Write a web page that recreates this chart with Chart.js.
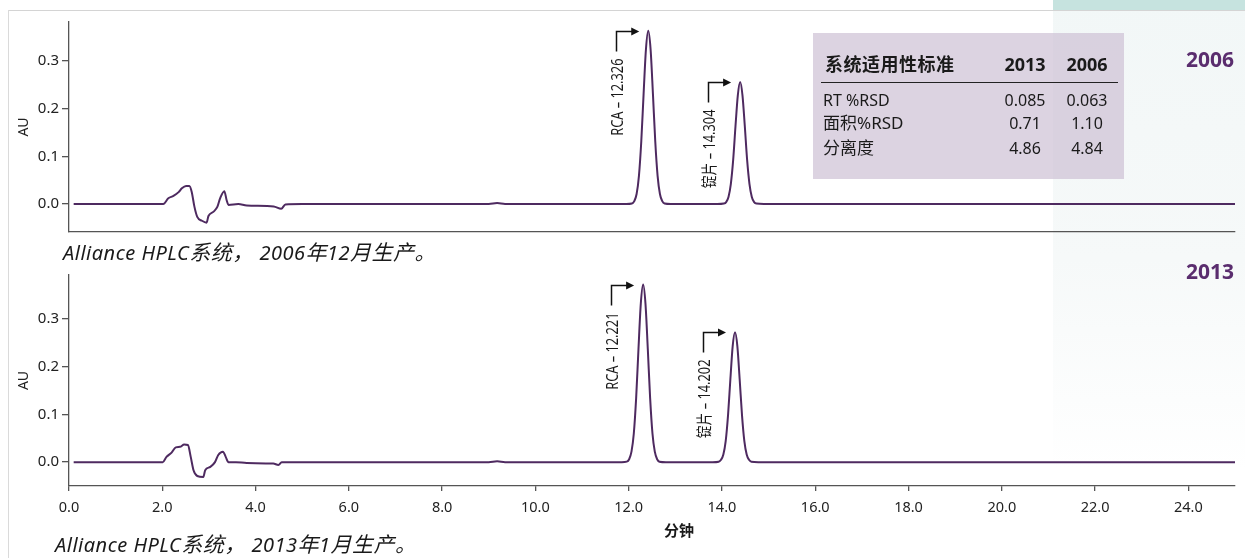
<!DOCTYPE html>
<html>
<head>
<meta charset="utf-8">
<script src="https://cdn.jsdelivr.net/npm/chart.js@4.4.0/dist/chart.umd.min.js"></script>
<style>
body { margin: 0; width: 1245px; height: 558px; position: relative; overflow: hidden; background: #fff;
  font-family: 'Noto Sans', 'Noto Sans CJK SC', sans-serif; color: #1a1a1a; }
.abs { position: absolute; white-space: nowrap; }
#panel { left: 1053px; top: 0; width: 192px; height: 558px;
  background: linear-gradient(#f2f7f7 0px, #f6f9f9 260px, #ffffff 470px); }
#strip { left: 1053px; top: 0; width: 192px; height: 10px; background: #c6e3df; }
#topline { left: 8px; top: 10px; width: 1237px; height: 0; border-top: 1.5px solid #d4d4d4; }
#leftline { left: 8px; top: 10px; width: 0; height: 548px; border-left: 1.5px solid #dadada; }
#c1 { left: 0; top: 0; }
#c2 { left: 0; top: 245px; }
.cap { font-style: italic; font-size: 20px; line-height: 26px; letter-spacing: 0.5px; }
.cap .cjk { font-size: 21px; font-family: 'Noto Sans CJK SC', sans-serif; }
.year { font-weight: bold; font-size: 21px; color: #5a2d6e; line-height: 26px; }
#tbl { left: 813px; top: 33px; width: 311px; height: 146px; background: rgba(205, 193, 212, 0.7); }
#rule { left: 821px; top: 82px; width: 297px; height: 0; border-top: 1.5px solid #222; }
</style>
</head>
<body>
<div id="panel" class="abs"></div>
<div id="strip" class="abs"></div>
<div id="topline" class="abs"></div>
<div id="leftline" class="abs"></div>
<div id="tbl" class="abs"></div>
<div id="rule" class="abs"></div>
<canvas id="c1" class="abs" width="1245" height="245"></canvas>
<canvas id="c2" class="abs" width="1245" height="313"></canvas>
<div class="abs cap" style="left:63px; top:238px;">Alliance HPLC<span class="cjk">系统，</span> 2006<span class="cjk">年</span>12<span class="cjk">月生产。</span></div>
<div class="abs cap" style="left:55px; top:530px;">Alliance HPLC<span class="cjk">系统，</span> 2013<span class="cjk">年</span>1<span class="cjk">月生产。</span></div>
<div class="abs year" style="right:11px; top:46px;">2006</div>
<div class="abs year" style="right:11px; top:258px;">2013</div>
<div class="abs" style="left:664px; top:519px; font-size:15px; font-weight:bold; line-height:22px;">分钟</div>
<script>
// 2006 run (top trace)
const time2006 = [0.1, 1.6, 2.02, 2.13, 2.24, 2.35, 2.42, 2.51, 2.58, 2.63, 2.69, 2.75, 2.85, 2.95, 2.99, 3.10, 3.18, 3.24, 3.33, 3.38, 3.42, 3.63, 3.81, 4.39, 4.55, 4.64, 5.0, 9.0, 9.18, 9.35,
  11.95, 12.07, 12.12, 12.17, 12.22, 12.27, 12.32, 12.37, 12.42, 12.47, 12.52, 12.57, 12.62, 12.67, 12.72, 12.77, 12.90,
  13.90, 14.04, 14.09, 14.14, 14.19, 14.24, 14.29, 14.34, 14.39, 14.44, 14.49, 14.54, 14.59, 14.64, 14.69, 14.74, 14.90,
  25.0];
const au2006 = [0, 0, 0, 0.012, 0.017, 0.025, 0.033, 0.038, 0.038, 0.026, -0.006, -0.027, -0.035, -0.039, -0.025, -0.016, -0.006, 0.012, 0.027, 0.008, -0.002, 0, -0.003, -0.005, -0.010, -0.001, 0, 0, 0.002, 0,
  0, 0.001, 0.006, 0.021, 0.059, 0.131, 0.231, 0.324, 0.363, 0.324, 0.231, 0.131, 0.059, 0.021, 0.006, 0.001, 0,
  0, 0.001, 0.004, 0.015, 0.042, 0.092, 0.163, 0.228, 0.256, 0.228, 0.163, 0.092, 0.042, 0.015, 0.004, 0.001, 0,
  0];
const peakTime2006 = [12.42, 14.39];
const peakAU2006 = [0.363, 0.256];
const peakLabel2006 = ['RCA – 12.326', '锭片 – 14.304'];

// 2013 run (bottom trace)
const time2013 = [0.1, 2.01, 2.09, 2.20, 2.29, 2.38, 2.47, 2.55, 2.61, 2.67, 2.75, 2.88, 2.92, 3.03, 3.13, 3.20, 3.30, 3.36, 3.42, 3.58, 3.81, 4.38, 4.49, 4.56, 5.0, 9.0, 9.18, 9.35,
  11.85, 11.96, 12.01, 12.06, 12.11, 12.16, 12.21, 12.26, 12.31, 12.36, 12.41, 12.46, 12.51, 12.56, 12.61, 12.66, 12.80,
  13.80, 13.93, 13.98, 14.03, 14.08, 14.13, 14.18, 14.23, 14.28, 14.33, 14.38, 14.43, 14.48, 14.53, 14.58, 14.63, 14.78,
  25.0];
const au2013 = [0, 0, 0.011, 0.020, 0.031, 0.032, 0.037, 0.036, 0.011, -0.017, -0.029, -0.031, -0.017, -0.010, 0, 0.015, 0.022, 0.011, 0, 0, -0.002, -0.003, -0.006, 0, 0, 0, 0.002, 0,
  0, 0.001, 0.006, 0.022, 0.060, 0.134, 0.237, 0.332, 0.372, 0.332, 0.237, 0.134, 0.060, 0.022, 0.006, 0.001, 0,
  0, 0.001, 0.005, 0.016, 0.044, 0.098, 0.173, 0.243, 0.272, 0.243, 0.173, 0.098, 0.044, 0.016, 0.005, 0.001, 0,
  0];
const peakTime2013 = [12.31, 14.28];
const peakAU2013 = [0.372, 0.272];
const peakLabel2013 = ['RCA – 12.221', '锭片 – 14.202'];

const timeTicks = [0, 2, 4, 6, 8, 10, 12, 14, 16, 18, 20, 22, 24];
const auTicks = [0, 0.1, 0.2, 0.3];

// system suitability table
const tableHead = ['系统适用性标准', '2013', '2006'];
const tableRows = ['RT %RSD', '面积%RSD', '分离度'];
const table2013 = ['0.085', '0.71', '4.86'];
const table2006 = ['0.063', '1.10', '4.84'];

function addText(txt, css) {
  const d = document.createElement('div');
  d.className = 'abs';
  d.textContent = txt;
  d.style.cssText = css;
  document.body.appendChild(d);
}
addText(tableHead[0], 'left:825px; top:52px; font-size:18px; font-weight:bold; line-height:24px; letter-spacing:0.5px;');
addText(tableHead[1], 'left:995px; width:60px; text-align:center; top:52px; font-size:18px; font-weight:bold; line-height:24px;');
addText(tableHead[2], 'left:1057px; width:60px; text-align:center; top:52px; font-size:18px; font-weight:bold; line-height:24px;');
const rowY = [100, 123, 148];
tableRows.forEach((r, i) => {
  const top = rowY[i] - 11;
  addText(r, 'left:823px; top:' + top + 'px; line-height:22px;' + (i > 0 ? 'font-size:17px;' : 'font-size:16px;'));
  addText(table2013[i], 'left:995px; width:60px; text-align:center; top:' + top + 'px; font-size:16px; line-height:22px;');
  addText(table2006[i], 'left:1057px; width:60px; text-align:center; top:' + top + 'px; font-size:16px; line-height:22px;');
});

const peakNotes = {
  id: 'peakNotes',
  afterDatasetsDraw(chart, args, opts) {
    const ctx = chart.ctx;
    const x = chart.scales.x, y = chart.scales.y;
    opts.times.forEach((t, i) => {
      const px = x.getPixelForValue(t);
      const py = y.getPixelForValue(opts.heights[i]);
      const lx = Math.round(px - 32) + 0.5;
      const top = Math.round(py) + 0.5;
      const bot = top + 20;
      ctx.save();
      ctx.strokeStyle = '#111';
      ctx.fillStyle = '#111';
      ctx.lineWidth = 1.5;
      ctx.beginPath();
      ctx.moveTo(lx, bot);
      ctx.lineTo(lx, top);
      ctx.lineTo(px - 16, top);
      ctx.stroke();
      ctx.beginPath();
      ctx.moveTo(px - 9, top);
      ctx.lineTo(px - 17, top - 4);
      ctx.lineTo(px - 17, top + 4);
      ctx.closePath();
      ctx.fill();
      // condensed vertical label
      ctx.translate(lx + 1.5, bot + 7);
      ctx.rotate(-Math.PI / 2);
      ctx.scale(0.8, 1);
      ctx.font = "16px 'Noto Sans', 'Noto Sans CJK SC', sans-serif";
      ctx.fillStyle = '#1a1a1a';
      ctx.textAlign = 'right';
      ctx.textBaseline = 'middle';
      ctx.fillText(opts.labels[i], 0, 0);
      ctx.restore();
    });
  }
};

function makeChart(id, times, values, yMin, yMax, notes, bottomAxis) {
  const pts = times.map((t, i) => ({ x: t, y: values[i] }));
  return new Chart(document.getElementById(id), {
    type: 'line',
    data: {
      datasets: [{
        data: pts,
        borderColor: '#4e2a60',
        borderWidth: 2,
        pointRadius: 0,
        cubicInterpolationMode: 'monotone',
        fill: false,
      }],
    },
    plugins: [peakNotes],
    options: {
      responsive: false,
      animation: false,
      layout: {
        autoPadding: false,
        padding: bottomAxis ? { left: 0, right: 10, top: 30, bottom: 19 } : { left: 0, right: 10, top: 22, bottom: 13 },
      },
      plugins: {
        legend: { display: false },
        tooltip: { enabled: false },
        peakNotes: notes,
      },
      scales: {
        x: {
          type: 'linear',
          min: 0,
          max: 25,
          afterBuildTicks: (s) => { s.ticks = timeTicks.map(v => ({ value: v })); },
          afterFit: (s) => { s.height = bottomAxis ? 53 : 0; },
          border: { display: true, color: '#555', width: 1.3 },
          grid: { display: bottomAxis, drawOnChartArea: false, drawTicks: true, tickLength: 5, color: '#555', lineWidth: 1.3 },
          ticks: {
            display: bottomAxis,
            padding: 8,
            maxRotation: 0,
            autoSkip: false,
            color: '#222',
            font: { family: "'Noto Sans', sans-serif", size: 14.5 },
            callback: (v) => Number(v).toFixed(1),
          },
        },
        y: {
          min: yMin,
          max: yMax,
          afterBuildTicks: (s) => { s.ticks = auTicks.map(v => ({ value: v })); },
          afterFit: (s) => { s.width = 69; },
          border: { display: true, color: '#555', width: 1.3 },
          grid: { drawOnChartArea: false, drawTicks: true, tickLength: 7, color: '#555', lineWidth: 1.3 },
          ticks: {
            padding: 3,
            color: '#222',
            font: { family: "'Noto Sans', sans-serif", size: 15 },
            callback: (v) => Number(v).toFixed(1),
          },
          title: {
            display: true,
            text: 'AU',
            color: '#222',
            padding: { top: 16, bottom: 0 },
            font: { family: "'Noto Sans', sans-serif", size: 14 },
          },
        },
      },
    },
  });
}

makeChart('c1', time2006, au2006, -0.0586, 0.3816,
  { times: peakTime2006, heights: peakAU2006, labels: peakLabel2006 }, false);
makeChart('c2', time2013, au2013, -0.050, 0.392,
  { times: peakTime2013, heights: peakAU2013, labels: peakLabel2013 }, true);
</script>
</body>
</html>
